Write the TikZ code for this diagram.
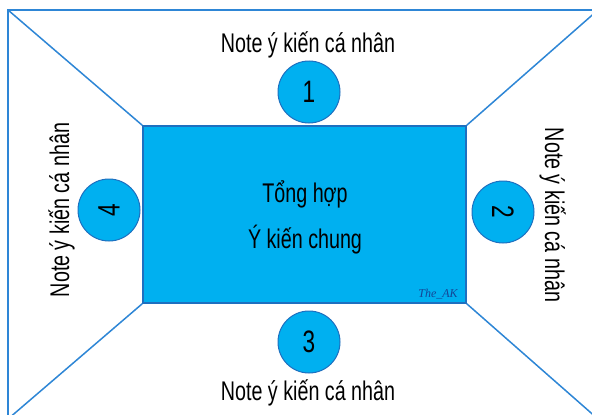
\documentclass[tikz,border=0pt]{standalone}
\usepackage{fontspec}
\setmainfont{Liberation Sans}[FakeStretch=0.73]
\newfontfamily\wmfont{Liberation Serif}
\definecolor{cyanfill}{RGB}{0,176,240}
\definecolor{edgeblue}{RGB}{30,112,192}
\definecolor{lineblue}{RGB}{46,134,214}
\definecolor{wmblue}{RGB}{20,70,150}
\begin{document}
\begin{tikzpicture}[x=1pt,y=-1pt,
  frameline/.style={draw=lineblue,line width=1.5pt},
  centerbox/.style={draw=edgeblue,fill=cyanfill,line width=1.6pt,minimum width=323pt,minimum height=177pt,inner sep=0pt},
  numcircle/.style={circle,draw=edgeblue,fill=cyanfill,line width=1pt,minimum size=62pt,inner sep=0pt,font=\fontsize{31}{34}\selectfont},
  notelabel/.style={font=\fontsize{27}{30}\selectfont,inner sep=0pt,anchor=base},
  maintext/.style={font=\fontsize{27}{30}\selectfont,inner sep=0pt,anchor=base}
]
\useasboundingbox (0,0) rectangle (592,415);
\fill[white] (0,0) rectangle (592,415);
\clip (0,0) rectangle (592,415);
% outer frame corners
\coordinate (tl) at (8,10);
\coordinate (tr) at (598,10);
\coordinate (bl) at (8,419);
\coordinate (br) at (598,419);
\draw[frameline] (bl) -- (tl) -- (tr) -- (br) -- cycle;
% centre box
\node[centerbox] (box) at (304.5,214.5) {};
\draw[frameline] (box.north west) -- (tl);
\draw[frameline] (box.north east) -- (tr);
\draw[frameline] (box.south west) -- (bl);
\draw[frameline] (box.south east) -- (br);
\node[maintext] (t1) at (305,202) {Tổng hợp};
\node[maintext] (t2) at (305,248) {Ý kiến chung};
\node[font=\wmfont\itshape\fontsize{12}{12}\selectfont,text=wmblue,inner sep=0pt] (wm) at (438,294) {The\_AK};
% circles
\node[numcircle] (c1) at (309,92) {1};
\node[numcircle,rotate=-90] (c2) at (503,212) {2};
\node[numcircle] (c3) at (309,342) {3};
\node[numcircle,rotate=90] (c4) at (109,210) {4};
% labels
\node[notelabel] (l1) at (308,52) {Note ý kiến cá nhân};
\node[notelabel] (l3) at (308,400) {Note ý kiến cá nhân};
\node[notelabel,rotate=90] (l4) at (69,210) {Note ý kiến cá nhân};
\node[notelabel,rotate=-90] (l2) at (545,215) {Note ý kiến cá nhân};
\end{tikzpicture}
\end{document}
